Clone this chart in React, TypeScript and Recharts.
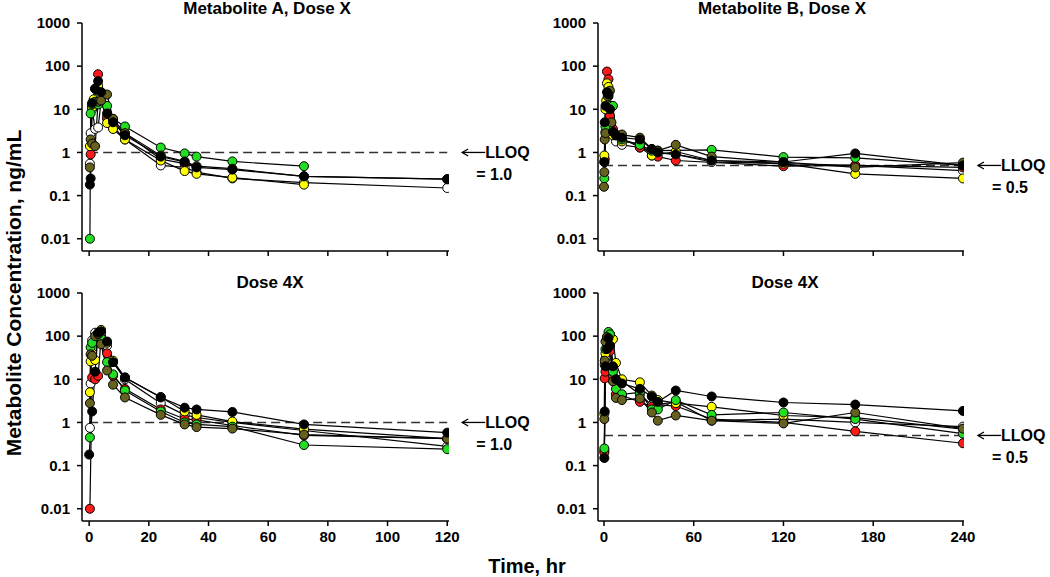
import React from 'react';
import { LineChart, Line, XAxis, YAxis, ReferenceLine } from 'recharts';

type Pt = [number, number];

// subject order: white, red, yellow, green, olive, black
const subjectColors = ['#ffffff', '#ff1a1a', '#ffff00', '#22dd22', '#66611f', '#000000'];

const yTicks = [0.01, 0.1, 1, 10, 100, 1000];
const xTicksA = [0, 20, 40, 60, 80, 100, 120];
const xTicksB = [0, 60, 120, 180, 240];

// Metabolite A, Dose X  [hr, ng/mL]
const aXWhite: Pt[] = [[0.25, 0.55], [0.5, 2.8], [1, 10], [2, 3.5], [3, 3.8], [4, 15], [6, 6], [8, 4], [12, 2], [24, 0.5], [32, 0.45], [36, 0.35], [48, 0.25], [72, 0.2], [120, 0.15]];
const aXRed: Pt[] = [[0.5, 0.9], [1, 12], [2, 30], [3, 65], [4, 25], [6, 6.5], [8, 5], [12, 2.8], [24, 0.7], [32, 0.55], [36, 0.45]];
const aXYellow: Pt[] = [[0.25, 1.4], [1, 11], [1.5, 17], [3, 35], [4, 22], [6, 4.8], [8, 3.5], [12, 2], [24, 0.65], [32, 0.37], [36, 0.32], [48, 0.26], [72, 0.18]];
const aXGreen: Pt[] = [[0.25, 0.01], [0.5, 8], [1, 13], [2, 15], [3, 13], [6, 12], [8, 6], [12, 4], [24, 1.3], [32, 0.95], [36, 0.8], [48, 0.62], [72, 0.48]];
const aXOlive: Pt[] = [[0.25, 0.45], [0.5, 2], [1, 1.6], [2, 1.4], [3, 15], [4, 16], [6, 22], [8, 6], [12, 2.8], [24, 0.85], [32, 0.62], [36, 0.48], [48, 0.42], [72, 0.28], [120, 0.24]];
const aXBlack: Pt[] = [[0.25, 0.18], [0.5, 0.25], [1, 14], [2, 30], [3, 45], [4, 25], [6, 8], [8, 5], [12, 2.5], [24, 0.8], [32, 0.6], [36, 0.45], [48, 0.4], [72, 0.28], [120, 0.24]];

// Metabolite B, Dose X
const bXWhite: Pt[] = [[0.25, 0.6], [1, 3], [2, 12], [3, 20], [6, 3], [8, 1.8], [12, 1.5], [24, 1.3], [32, 1.0], [48, 0.9], [72, 0.6], [120, 0.55], [168, 0.5], [240, 0.38]];
const bXRed: Pt[] = [[0.5, 0.7], [2, 75], [3, 50], [4, 7], [6, 3.5], [8, 2.5], [24, 1.3], [32, 0.85], [36, 0.8], [48, 0.65], [120, 0.48], [168, 0.5], [240, 0.45]];
const bXYellow: Pt[] = [[0.25, 0.85], [1, 10], [1.5, 16], [2, 40], [3, 33], [4, 4.5], [6, 2.5], [12, 1.8], [24, 1.6], [32, 0.85], [48, 1.05], [72, 0.65], [120, 0.55], [168, 0.32], [240, 0.25]];
const bXGreen: Pt[] = [[0.25, 0.25], [1, 4], [4, 12], [6, 12], [8, 2.5], [12, 2], [24, 1.5], [32, 1.1], [36, 1.1], [72, 1.15], [120, 0.78], [168, 0.75], [240, 0.5]];
const bXOlive: Pt[] = [[0, 0.16], [0.25, 0.35], [0.5, 2], [1, 2.8], [2.5, 20], [4, 27], [5, 5], [8, 2.6], [12, 2.6], [24, 2.2], [32, 1.2], [36, 1.1], [48, 1.5], [72, 0.8], [120, 0.6], [168, 0.45], [240, 0.58]];
const bXBlack: Pt[] = [[0.25, 0.6], [0.5, 5], [1, 12], [2, 25], [3, 22], [4, 10], [6, 3], [8, 2.5], [12, 2.2], [24, 2], [32, 1.2], [36, 1.0], [48, 0.9], [72, 0.65], [120, 0.6], [168, 0.95], [240, 0.5]];

// Metabolite A, Dose 4X
const a4White: Pt[] = [[0.25, 0.75], [0.5, 8], [1, 80], [2, 120], [4, 110], [6, 60], [8, 25], [12, 10], [24, 2.8], [32, 1.5], [36, 1.3], [48, 1.0], [72, 0.65], [120, 0.28]];
const a4Red: Pt[] = [[0.25, 0.01], [1, 11], [2, 10], [3, 12], [4, 90], [6, 40], [8, 12], [12, 6], [24, 2.0], [32, 1.2], [36, 1.15], [48, 0.85], [72, 0.5], [120, 0.42]];
const a4Yellow: Pt[] = [[0.25, 5], [0.5, 26], [1, 40], [2, 28], [3, 110], [4, 140], [6, 70], [8, 27], [12, 11], [24, 3.9], [32, 1.8], [36, 1.5], [48, 1.05], [72, 0.7], [120, 0.42]];
const a4Green: Pt[] = [[0.25, 0.45], [0.5, 55], [1, 70], [3, 100], [4, 90], [6, 25], [8, 13], [12, 5.5], [24, 1.8], [32, 1.0], [36, 0.9], [48, 0.8], [72, 0.3], [120, 0.24]];
const a4Olive: Pt[] = [[0.25, 2.8], [0.5, 38], [1, 35], [2, 100], [3, 110], [4, 65], [6, 16], [8, 7.5], [12, 3.8], [24, 1.5], [32, 0.9], [36, 0.78], [48, 0.72], [72, 0.52], [120, 0.42]];
const a4Black: Pt[] = [[0, 0.18], [1, 1.8], [2, 15], [3, 120], [4, 130], [6, 75], [8, 25], [12, 11], [24, 3.8], [32, 2.2], [36, 2.0], [48, 1.75], [72, 0.9], [120, 0.58]];

// Metabolite B, Dose 4X
const b4White: Pt[] = [[0.25, 0.22], [1, 30], [2, 70], [4, 100], [6, 20], [8, 8], [12, 9], [24, 4.5], [32, 2.5], [48, 3], [72, 1.1], [120, 1.2], [168, 1.0], [240, 0.8]];
const b4Red: Pt[] = [[0.25, 0.2], [0.5, 10.5], [1, 15], [2, 60], [4, 45], [6, 12], [8, 4.5], [12, 4.2], [24, 3.0], [32, 2.3], [36, 2.6], [48, 2.4], [72, 1.2], [120, 1.0], [168, 0.62], [240, 0.33]];
const b4Yellow: Pt[] = [[0.25, 1.6], [0.5, 22], [1, 40], [2, 95], [4, 110], [6, 85], [8, 24], [12, 10], [24, 8.5], [32, 4.2], [36, 3.3], [48, 2.8], [72, 2.3], [120, 1.45], [168, 1.3], [240, 0.7]];
const b4Green: Pt[] = [[0.25, 0.25], [1, 50], [2, 90], [3, 125], [4, 110], [6, 15], [8, 6], [12, 4.5], [24, 5], [32, 2.0], [36, 2.0], [48, 3.3], [72, 1.5], [120, 1.7], [168, 1.2], [240, 0.55]];
const b4Olive: Pt[] = [[0.25, 1.2], [0.5, 27], [1, 75], [2, 95], [4, 60], [6, 9], [8, 3.7], [12, 3.3], [24, 3.6], [32, 1.7], [36, 1.1], [48, 1.45], [72, 1.1], [120, 0.95], [168, 1.7], [240, 0.72]];
const b4Black: Pt[] = [[0.25, 0.15], [0.5, 1.8], [1, 20], [2, 50], [3, 90], [4, 60], [6, 20], [8, 10], [12, 8], [24, 6], [32, 4], [36, 3], [48, 5.5], [72, 4.0], [120, 2.9], [168, 2.6], [240, 1.85]];

const FONT = '"Liberation Sans", Arial, sans-serif';

const LloqLabel = ({ viewBox, text }: any) => {
  const x = viewBox.x + viewBox.width;
  const y = viewBox.y;
  return (
    <g>
      <line x1={x + 15} y1={y} x2={x + 38} y2={y} stroke="#000" strokeWidth={1.3} />
      <polyline points={`${x + 21},${y - 3.5} ${x + 15},${y} ${x + 21},${y + 3.5}`} fill="none" stroke="#000" strokeWidth={1.3} />
      <text x={x + 38} y={y + 6} fontSize={16} fontWeight="bold" fontFamily={FONT} fill="#000">LLOQ</text>
      <text x={x + 29} y={y + 28} fontSize={16} fontWeight="bold" fontFamily={FONT} fill="#000">{text}</text>
    </g>
  );
};

type PanelProps = {
  left: number;
  top: number;
  width: number;
  height: number;
  yAxisWidth: number;
  marginTop: number;
  marginRight: number;
  xAxisHeight: number;
  xDomain: [number, number];
  xTicks: number[];
  xLabels: boolean;
  series: Pt[][];
  lloq: number;
  lloqText: string;
};

const tickStyle = { fill: '#000', fontSize: 15, fontWeight: 'bold', fontFamily: FONT };

const Panel = (p: PanelProps) => {
  const xMax = p.xTicks[p.xTicks.length - 1];
  return (
    <div style={{ position: 'absolute', left: p.left, top: p.top }}>
      <LineChart width={p.width} height={p.height} margin={{ top: p.marginTop, right: p.marginRight, left: 0, bottom: 0 }}>
        <XAxis
          type="number"
          dataKey="t"
          domain={p.xDomain}
          ticks={p.xTicks}
          allowDataOverflow
          height={p.xAxisHeight}
          stroke="#000"
          strokeWidth={1.5}
          tickSize={5}
          tickMargin={5}
          tick={tickStyle}
          tickFormatter={(v: number) => (p.xLabels ? String(v) : '')}
        />
        <YAxis
          type="number"
          scale="log"
          domain={[0.0052, 1000]}
          allowDataOverflow
          ticks={yTicks}
          width={p.yAxisWidth}
          stroke="#000"
          strokeWidth={1.5}
          tickSize={5}
          tickMargin={7}
          tick={tickStyle}
          tickFormatter={(v: number) => String(v)}
        />
        <ReferenceLine
          segment={[{ x: 0, y: p.lloq }, { x: xMax, y: p.lloq }]}
          stroke="#333"
          strokeWidth={1.5}
          strokeDasharray="9 5"
          ifOverflow="visible"
          label={(lp: any) => <LloqLabel viewBox={lp.viewBox} text={p.lloqText} />}
        />
        {p.series.map((pts, i) => (
          <Line
            key={i}
            data={pts.map(([t, c]) => ({ t, c }))}
            dataKey="c"
            type="linear"
            stroke="#000"
            strokeWidth={1.2}
            dot={{ r: 4.5, fill: subjectColors[i], stroke: '#000', strokeWidth: 1 }}
            activeDot={false}
            isAnimationActive={false}
          />
        ))}
      </LineChart>
    </div>
  );
};

const titleStyle: React.CSSProperties = {
  position: 'absolute',
  fontFamily: FONT,
  fontWeight: 'bold',
  fontSize: 17,
  color: '#000',
  whiteSpace: 'nowrap',
  transform: 'translate(-50%, -50%)',
};

const App = () => {
  return (
    <div style={{ position: 'absolute', left: 0, top: 0, width: 1050, height: 577, background: '#fff', overflow: 'hidden' }}>
      <Panel left={0} top={0} width={545} height={271} yAxisWidth={82} marginTop={23} marginRight={96} xAxisHeight={20}
        xDomain={[-2.4, 120.6]} xTicks={xTicksA} xLabels={false}
        series={[aXWhite, aXRed, aXYellow, aXGreen, aXOlive, aXBlack]} lloq={1} lloqText="= 1.0" />
      <Panel left={520} top={0} width={530} height={271} yAxisWidth={78} marginTop={23} marginRight={86} xAxisHeight={20}
        xDomain={[-4, 240.7]} xTicks={xTicksB} xLabels={false}
        series={[bXWhite, bXRed, bXYellow, bXGreen, bXOlive, bXBlack]} lloq={0.5} lloqText="= 0.5" />
      <Panel left={0} top={270} width={545} height={281} yAxisWidth={82} marginTop={23} marginRight={96} xAxisHeight={30}
        xDomain={[-2.4, 120.6]} xTicks={xTicksA} xLabels
        series={[a4White, a4Red, a4Yellow, a4Green, a4Olive, a4Black]} lloq={1} lloqText="= 1.0" />
      <Panel left={520} top={270} width={530} height={281} yAxisWidth={78} marginTop={23} marginRight={86} xAxisHeight={30}
        xDomain={[-4, 240.7]} xTicks={xTicksB} xLabels
        series={[b4White, b4Red, b4Yellow, b4Green, b4Olive, b4Black]} lloq={0.5} lloqText="= 0.5" />

      <div style={{ ...titleStyle, left: 267, top: 9 }}>Metabolite A, Dose X</div>
      <div style={{ ...titleStyle, left: 782, top: 9 }}>Metabolite B, Dose X</div>
      <div style={{ ...titleStyle, left: 270, top: 283 }}>Dose 4X</div>
      <div style={{ ...titleStyle, left: 785, top: 283 }}>Dose 4X</div>
      <div style={{ ...titleStyle, fontSize: 21, left: 14, top: 293, transform: 'translate(-50%, -50%) rotate(-90deg)' }}>
        Metabolite Concentration, ng/mL
      </div>
      <div style={{ ...titleStyle, fontSize: 20, left: 527, top: 566 }}>Time, hr</div>
    </div>
  );
};

export default App;
